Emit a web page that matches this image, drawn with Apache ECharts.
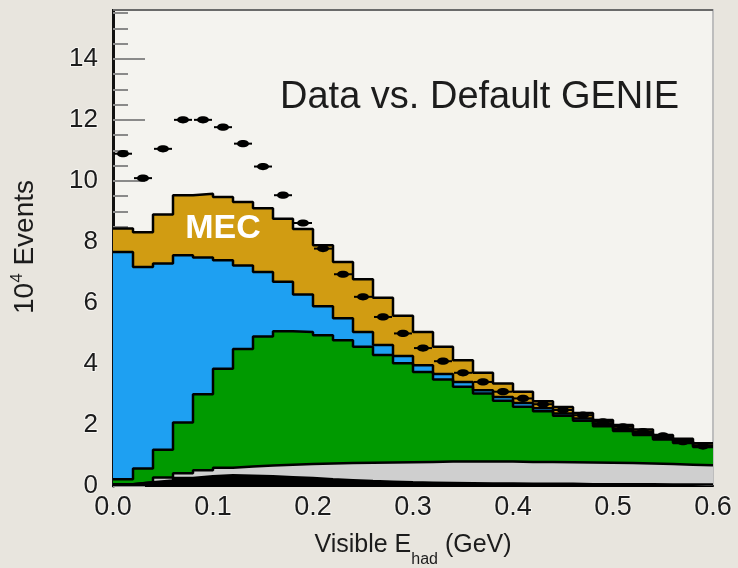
<!DOCTYPE html>
<html>
<head>
<meta charset="utf-8">
<script src="https://cdn.jsdelivr.net/npm/echarts@6/dist/echarts.min.js"></script>
<style>
  html, body { margin: 0; padding: 0; background: #e8e5de; }
  #chart { width: 738px; height: 568px; }
</style>
</head>
<body>
<div id="chart"></div>
<script>
// Histogram bin edges in visible hadronic energy (GeV)
const binEdges = [0.00, 0.02, 0.04, 0.06, 0.08, 0.10, 0.12, 0.14, 0.16, 0.18,
                  0.20, 0.22, 0.24, 0.26, 0.28, 0.30, 0.32, 0.34, 0.36, 0.38,
                  0.40, 0.42, 0.44, 0.46, 0.48, 0.50, 0.52, 0.54, 0.56, 0.58, 0.60];

// Simulated event counts per bin (units of 10^4), one array per stacked component
const otherEvents = [0.06, 0.12, 0.18, 0.26, 0.32, 0.35, 0.34, 0.32, 0.29, 0.26,
                     0.22, 0.19, 0.16, 0.14, 0.12, 0.11, 0.10, 0.09, 0.08, 0.08,
                     0.07, 0.07, 0.07, 0.06, 0.06, 0.06, 0.06, 0.05, 0.05, 0.05];
const disEvents   = [0.00, 0.00, 0.10, 0.16, 0.20, 0.25, 0.30, 0.35, 0.41, 0.46,
                     0.52, 0.56, 0.60, 0.63, 0.66, 0.68, 0.70, 0.71, 0.72, 0.72,
                     0.72, 0.72, 0.71, 0.71, 0.70, 0.69, 0.68, 0.67, 0.65, 0.63];
const resEvents   = [0.16, 0.45, 0.91, 1.66, 2.49, 3.24, 3.85, 4.23, 4.37, 4.33,
                     4.20, 4.03, 3.80, 3.52, 3.24, 2.95, 2.69, 2.45, 2.23, 1.99,
                     1.81, 1.66, 1.52, 1.37, 1.20, 1.05, 0.93, 0.80, 0.71, 0.60];
const qeEvents    = [7.45, 6.61, 6.10, 5.48, 4.48, 3.56, 2.74, 2.11, 1.62, 1.23,
                     0.95, 0.72, 0.49, 0.33, 0.24, 0.22, 0.18, 0.16, 0.11, 0.13,
                     0.12, 0.10, 0.08, 0.07, 0.07, 0.07, 0.06, 0.06, 0.06, 0.05];
const mecEvents   = [0.77, 1.14, 1.61, 1.97, 2.09, 2.07, 2.08, 2.09, 2.07, 2.14,
                     2.00, 1.84, 1.73, 1.55, 1.32, 1.09, 0.89, 0.71, 0.57, 0.44,
                     0.37, 0.23, 0.21, 0.18, 0.13, 0.13, 0.12, 0.09, 0.08, 0.07];

// Measured event counts per bin (units of 10^4)
const dataEvents  = [10.89, 10.09, 11.05, 12.00, 12.00, 11.76, 11.22, 10.47, 9.53, 8.62,
                     7.78, 6.94, 6.20, 5.54, 5.00, 4.52, 4.09, 3.71, 3.41, 3.09,
                     2.87, 2.68, 2.49, 2.32, 2.10, 1.94, 1.78, 1.64, 1.45, 1.31];

const FONT = '"Liberation Sans", Arial, Helvetica, sans-serif';
const TEXT = '#1c1c1c';
const PAGE = '#e8e5de';

// Components from bottom to top of the stack
const layers = [
  { name: 'Other', vals: otherEvents, color: '#000000' },
  { name: 'DIS',   vals: disEvents,   color: '#cfcfcf' },
  { name: 'RES',   vals: resEvents,   color: '#009a00' },
  { name: 'QE',    vals: qeEvents,    color: '#1ea0f2' },
  { name: 'MEC',   vals: mecEvents,   color: '#d19c12' }
];

// Running sums give the top edge of each component in the stack
let running = new Array(binEdges.length - 1).fill(0);
layers.forEach(l => {
  running = running.map((s, i) => s + l.vals[i]);
  l.top = running.slice();
});

// Step-histogram points: one point per lower bin edge, plus the closing edge
function stepPoints(vals) {
  const pts = vals.map((v, i) => [binEdges[i], v]);
  pts.push([binEdges[vals.length], vals[vals.length - 1]]);
  return pts;
}

const series = [];
// Filled histograms, tallest first so each lower component paints over it
layers.slice().reverse().forEach(l => {
  series.push({
    type: 'line', name: l.name, step: 'end',
    data: stepPoints(l.top), symbol: 'none', silent: true,
    lineStyle: { width: 0 },
    areaStyle: { color: l.color, opacity: 1, origin: 'start' },
    z: 2, animation: false
  });
});
// Black outlines on every component edge, above all fills
layers.forEach(l => {
  series.push({
    type: 'line', name: l.name + ' edge', step: 'end',
    data: stepPoints(l.top), symbol: 'none', silent: true,
    lineStyle: { color: '#000', width: 2.5 },
    z: 3, animation: false
  });
});
// Data points with bin-width bars
series.push({
  type: 'custom', name: 'Data', z: 6, animation: false, silent: true,
  data: dataEvents.map((v, i) => [(binEdges[i] + binEdges[i + 1]) / 2, v, binEdges[i], binEdges[i + 1]]),
  encode: { x: 0, y: 1 },
  renderItem(params, api) {
    const c = api.coord([api.value(0), api.value(1)]);
    const l = api.coord([api.value(2), api.value(1)]);
    const r = api.coord([api.value(3), api.value(1)]);
    return {
      type: 'group',
      children: [
        { type: 'line', shape: { x1: l[0] + 1, y1: c[1], x2: r[0] - 1, y2: c[1] },
          style: { stroke: '#000', lineWidth: 2 } },
        { type: 'ellipse', shape: { cx: c[0], cy: c[1], rx: 6, ry: 3.6 },
          style: { fill: '#000' } }
      ]
    };
  },
  markLine: {
    silent: true, symbol: 'none', animation: false,
    label: { show: false },
    lineStyle: { color: '#6a6a6a', width: 2, type: 'solid' },
    data: [{ yAxis: 15.6 }]
  }
});

const chart = echarts.init(document.getElementById('chart'), null, { renderer: 'canvas' });
chart.setOption({
  animation: false,
  backgroundColor: PAGE,
  grid: {
    left: 113, right: 25, top: -2.2, bottom: 82,
    show: true, backgroundColor: '#f4f3ef', borderWidth: 0,
    outerBoundsMode: 'none', containLabel: false
  },
  xAxis: {
    type: 'value', min: 0, max: 0.6, interval: 0.1,
    axisLine: { show: true, onZero: false, lineStyle: { color: '#000', width: 2 } },
    axisTick: { show: false },
    splitLine: { show: false },
    axisLabel: {
      formatter: v => v.toFixed(1), fontSize: 27, color: TEXT, margin: 8,
      fontFamily: FONT, textBorderColor: 'rgba(255,255,255,0.6)', textBorderWidth: 2
    }
  },
  yAxis: [
    {
      type: 'value', min: 0, max: 16, interval: 2, position: 'left',
      axisLine: { show: true, onZero: false, lineStyle: { color: '#111', width: 3 } },
      axisTick: { show: true, inside: true, length: 32, lineStyle: { color: '#8a8a8a', width: 2 } },
      minorTick: { show: true, splitNumber: 4, length: 15, lineStyle: { color: '#8a8a8a', width: 2 } },
      splitLine: { show: false },
      axisLabel: {
        fontSize: 26, color: TEXT, margin: 15, showMaxLabel: false,
        fontFamily: FONT, textBorderColor: 'rgba(255,255,255,0.6)', textBorderWidth: 2
      }
    },
    {
      type: 'value', min: 0, max: 16, position: 'right',
      axisLine: { show: true, onZero: false, lineStyle: { color: '#bdbdbd', width: 2 } },
      axisTick: { show: false }, axisLabel: { show: false }, splitLine: { show: false }
    }
  ],
  series: series,
  graphic: [
    // page margin above the plot frame
    {
      type: 'rect', left: 0, top: 0, silent: true, z: 50,
      shape: { width: 738, height: 9 },
      style: { fill: PAGE }
    },
    {
      type: 'text', x: 280, y: 98, silent: true, z: 60,
      style: { text: 'Data vs. Default GENIE', font: '38px ' + FONT, fill: TEXT,
               align: 'left', verticalAlign: 'middle' }
    },
    {
      type: 'text', x: 223, y: 229, silent: true, z: 60,
      style: { text: 'MEC', font: 'bold 34px ' + FONT, fill: '#ffffff',
               align: 'center', verticalAlign: 'middle' }
    },
    {
      type: 'text', x: 413, y: 533, silent: true, z: 60,
      style: {
        text: '{n|Visible E}{s|had}{n| (GeV)}',
        align: 'center', verticalAlign: 'top', fill: TEXT,
        rich: {
          n: { fontSize: 25, lineHeight: 26, verticalAlign: 'top', fontFamily: FONT, fill: TEXT },
          s: { fontSize: 16, lineHeight: 54, verticalAlign: 'middle', fontFamily: FONT, fill: TEXT }
        }
      }
    },
    {
      type: 'text', x: 25, y: 247, rotation: Math.PI / 2, silent: true, z: 60,
      style: {
        text: '{n|10}{p|4}{n| Events}',
        align: 'center', verticalAlign: 'middle', fill: TEXT,
        rich: {
          n: { fontSize: 28, lineHeight: 32, verticalAlign: 'middle', fontFamily: FONT, fill: TEXT },
          p: { fontSize: 17, lineHeight: 17, verticalAlign: 'top', fontFamily: FONT, fill: TEXT }
        }
      }
    }
  ]
});
</script>
</body>
</html>
